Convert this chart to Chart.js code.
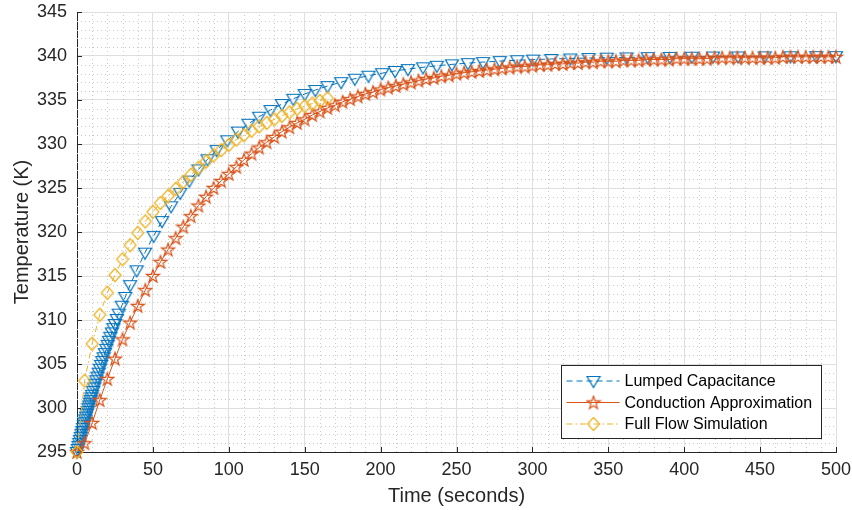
<!DOCTYPE html>
<html>
<head>
<meta charset="utf-8">
<script src="https://cdn.jsdelivr.net/npm/chart.js@4.4.0/dist/chart.umd.min.js"></script>
<style>
	html, body { margin:0; padding:0; background:#fff; }
</style>
</head>
<body>
<canvas id="myChart" width="852" height="510"></canvas>
<script>
// ---- data ----
var seriesNames = ['Lumped Capacitance', 'Conduction Approximation', 'Full Flow Simulation']

// lumped capacitance (solver output, dense near t=0)
var lumpedTime = [0, 0.5, 1, 1.5, 2, 2.5, 3, 3.5, 4, 4.5, 5, 5.5, 6, 6.5, 7, 7.5, 8, 8.5, 9, 9.5, 10,
	10.7, 11.4, 12.1, 12.8, 13.5, 14.3, 15.1, 15.9, 16.7, 17.5, 18.4, 19.3, 20.2, 21.1, 22, 23, 24, 25, 26.2, 27.5,
	29.5, 31.8, 35, 39.3, 44.8, 50.5, 56, 62, 68, 74, 80, 86, 92, 99, 106, 113, 120, 127.5, 135, 142.5, 150,
	157, 165, 174, 183, 192, 201, 209.5, 218, 228, 237, 247, 257.5, 267.5, 278.5, 290, 300.5, 312.5, 325, 337,
	349, 362, 376, 390.5, 405, 419, 435.5, 453, 470, 487, 500]
var lumpedTemp = [295.0, 295.35, 295.70, 296.04, 296.38, 296.72, 297.06, 297.40, 297.73, 298.06, 298.38, 298.71,
	299.03, 299.35, 299.66, 299.98, 300.29, 300.60, 300.90, 301.21, 301.51,
	301.93, 302.34, 302.75, 303.16, 303.56, 304.01, 304.46, 304.90, 305.34, 305.77, 306.24, 306.72, 307.18, 307.64,
	308.09, 308.59, 309.07, 309.55, 310.12, 310.72,
	311.62, 312.62, 313.96, 315.65, 317.65, 319.56, 321.24, 322.92, 324.45, 325.84, 327.11, 328.26, 329.31, 330.42,
	331.41, 332.30, 333.10, 333.86, 334.54, 335.14, 335.68,
	336.13, 336.58, 337.03, 337.42, 337.76, 338.05, 338.30, 338.51, 338.72, 338.89, 339.05, 339.19, 339.31, 339.42,
	339.52, 339.59, 339.66, 339.72, 339.77, 339.81, 339.84, 339.87, 339.90, 339.92, 339.94, 339.95, 339.96, 339.97,
	339.98, 339.98]

// conduction approximation, every 5 s
var condTime = [0, 5, 10, 15, 20, 25, 30, 35, 40, 45, 50, 55, 60, 65, 70, 75, 80, 85, 90, 95,
	100, 105, 110, 115, 120, 125, 130, 135, 140, 145, 150, 155, 160, 165, 170, 175, 180, 185, 190, 195,
	200, 205, 210, 215, 220, 225, 230, 235, 240, 245, 250, 255, 260, 265, 270, 275, 280, 285, 290, 295,
	300, 305, 310, 315, 320, 325, 330, 335, 340, 345, 350, 355, 360, 365, 370, 375, 380, 385, 390, 395,
	400, 405, 410, 415, 420, 425, 430, 435, 440, 445, 450, 455, 460, 465, 470, 475, 480, 485, 490, 495, 500]
var condTemp = [295.0, 296.0, 298.3, 300.9, 303.3, 305.6, 307.8, 309.7, 311.6, 313.4, 315.0, 316.6, 318.0, 319.3,
	320.6, 321.8, 323.0, 324.0, 325.0, 325.8,
	326.6, 327.4, 328.2, 328.9, 329.6, 330.2, 330.8, 331.4, 331.9, 332.4, 332.8, 333.3, 333.7, 334.1, 334.4, 334.8,
	335.1, 335.4, 335.7, 335.9,
	336.2, 336.4, 336.6, 336.8, 337.0, 337.2, 337.4, 337.5, 337.7, 337.8, 338.0, 338.1, 338.2, 338.3, 338.4, 338.5,
	338.6, 338.7, 338.8, 338.8,
	338.9, 339.0, 339.0, 339.1, 339.1, 339.2, 339.2, 339.3, 339.3, 339.4, 339.4, 339.4, 339.5, 339.5, 339.5, 339.6,
	339.6, 339.6, 339.6, 339.7,
	339.7, 339.7, 339.7, 339.7, 339.8, 339.8, 339.8, 339.8, 339.8, 339.8, 339.8, 339.8, 339.8, 339.9, 339.9, 339.9,
	339.9, 339.9, 339.9, 339.9, 339.9]

// full flow simulation, every 5 s up to 165 s
var flowTime = [0, 5, 10, 15, 20, 25, 30, 35, 40, 45, 50, 55, 60, 65, 70, 75, 80, 85, 90, 95,
	100, 105, 110, 115, 120, 125, 130, 135, 140, 145, 150, 155, 160, 165]
var flowTemp = [295.0, 303.1, 307.3, 310.6, 313.1, 315.1, 316.9, 318.5, 319.9, 321.2, 322.3, 323.3, 324.1, 324.9,
	325.7, 326.5, 327.3, 328.0, 328.7, 329.3, 329.9, 330.5, 331.0, 331.5, 332.0, 332.4, 332.8, 333.2, 333.6, 334.0,
	334.3, 334.6, 334.9, 335.2]

var xTicks = [0, 50, 100, 150, 200, 250, 300, 350, 400, 450, 500]
var yTicks = [295, 300, 305, 310, 315, 320, 325, 330, 335, 340, 345]

// ---- styling ----
var BLUE = '#0072BD', ORANGE = '#D95319', YELLOW = '#EDB120', AXIS = '#262626'
var FONT = '"Liberation Sans", Arial, Helvetica, sans-serif'

// matlab-ish open markers drawn on small canvases
function makeMarker(kind, color) {
	var c = document.createElement('canvas')
	c.width = 16; c.height = 16
	var g = c.getContext('2d')
	var cx = 8, cy = 8
	g.strokeStyle = color
	g.lineWidth = 1.2
	g.beginPath()
	if (kind == 'v') {
		g.moveTo(cx - 6.5, cy - 4.5); g.lineTo(cx + 6.5, cy - 4.5); g.lineTo(cx, cy + 6.5)
	} else if (kind == 'd') {
		g.moveTo(cx, cy - 6.5); g.lineTo(cx + 6, cy); g.lineTo(cx, cy + 6.5); g.lineTo(cx - 6, cy)
	} else {
		for (var i = 0; i < 10; i++) {
			var r = (i % 2) ? 2.7 : 6.8
			var a = -Math.PI / 2 + i * Math.PI / 5
			var px = cx + r * Math.cos(a), py = cy + 0.5 + r * Math.sin(a)
			if (i == 0) g.moveTo(px, py); else g.lineTo(px, py)
		}
	}
	g.closePath()
	g.stroke()
	return c
}

function pairs(xs, ys) {
	var out = []
	for (var i = 0; i < xs.length; i++) out.push({x: xs[i], y: ys[i]})
	return out
}

// dotted minor grid + inward tick marks
var minorGrid = {
	id: 'minorGrid',
	beforeDatasetsDraw(chart) {
		var ctx = chart.ctx, a = chart.chartArea, xs = chart.scales.x, ys = chart.scales.y
		ctx.save()
		ctx.strokeStyle = '#cacaca'
		ctx.lineWidth = 1
		ctx.setLineDash([1, 3])
		for (var v = 10; v < 500; v += 10) {
			if (v % 50 == 0) continue
			var px = Math.round(xs.getPixelForValue(v)) + 0.5
			ctx.beginPath(); ctx.moveTo(px, a.bottom); ctx.lineTo(px, a.top); ctx.stroke()
		}
		for (var t = 296; t < 345; t++) {
			if (t % 5 == 0) continue
			var py = Math.round(ys.getPixelForValue(t)) + 0.5
			ctx.beginPath(); ctx.moveTo(a.left, py); ctx.lineTo(a.right, py); ctx.stroke()
		}
		ctx.setLineDash([])
		ctx.strokeStyle = AXIS
		xTicks.forEach(function (v) {
			var px = Math.round(xs.getPixelForValue(v)) + 0.5
			ctx.beginPath(); ctx.moveTo(px, a.bottom); ctx.lineTo(px, a.bottom - 5); ctx.stroke()
		})
		yTicks.forEach(function (v) {
			var py = Math.round(ys.getPixelForValue(v)) + 0.5
			ctx.beginPath(); ctx.moveTo(a.left, py); ctx.lineTo(a.left + 5, py); ctx.stroke()
		})
		ctx.restore()
	}
}

// legend box in the lower right of the axes
var legendBox = {
	id: 'legendBox',
	afterDraw(chart) {
		var ctx = chart.ctx, a = chart.chartArea
		var w = 260, h = 73
		var bx = Math.round(a.right - 15 - w) + 0.5, by = Math.round(a.bottom - 14 - h) + 0.5
		ctx.save()
		ctx.fillStyle = '#fff'
		ctx.fillRect(bx, by, w, h)
		ctx.strokeStyle = AXIS
		ctx.lineWidth = 1
		ctx.strokeRect(bx, by, w, h)
		ctx.font = '16px ' + FONT
		ctx.textBaseline = 'middle'
		chart.data.datasets.forEach(function (ds, i) {
			var y = by + 15.5 + i * 21.5
			ctx.strokeStyle = ds.borderColor
			ctx.setLineDash(ds.borderDash || [])
			ctx.beginPath(); ctx.moveTo(bx + 5, y); ctx.lineTo(bx + 58, y); ctx.stroke()
			ctx.setLineDash([])
			var m = ds.pointStyle
			ctx.drawImage(m, bx + 32 - m.width / 2, y - m.height / 2)
			ctx.fillStyle = '#000'
			ctx.fillText(ds.label, bx + 63, y + 1)
		})
		ctx.restore()
	}
}

var datasets = [
	{
		label: seriesNames[0], data: pairs(lumpedTime, lumpedTemp),
		borderColor: BLUE, borderWidth: 1, borderDash: [6, 4],
		pointStyle: makeMarker('v', BLUE), pointRadius: 6, order: 3
	},
	{
		label: seriesNames[1], data: pairs(condTime, condTemp),
		borderColor: ORANGE, borderWidth: 1,
		pointStyle: makeMarker('p', ORANGE), pointRadius: 6, order: 2
	},
	{
		label: seriesNames[2], data: pairs(flowTime, flowTemp),
		borderColor: YELLOW, borderWidth: 1, borderDash: [6, 3, 1.5, 3],
		pointStyle: makeMarker('d', YELLOW), pointRadius: 6, order: 1
	},
]
datasets.forEach(function (d) {
	d.fill = false
	d.tension = 0
	d.clip = false
	d.backgroundColor = 'transparent'
})

new Chart(document.getElementById('myChart'), {
	type: 'line',
	data: {datasets: datasets},
	options: {
		responsive: false,
		animation: false,
		events: [],
		layout: {padding: {top: 12, right: 16, left: 0, bottom: 0}},
		plugins: {legend: {display: false}, tooltip: {enabled: false}},
		scales: {
			x: {
				type: 'linear', min: 0, max: 500,
				afterBuildTicks: function (s) { s.ticks = xTicks.map(function (v) { return {value: v} }) },
				afterFit: function (s) { s.height = 58; s.paddingLeft = 0; s.paddingRight = 0 },
				grid: {color: '#dfdfdf', lineWidth: 1, drawTicks: false},
				border: {color: AXIS, width: 1},
				ticks: {color: AXIS, font: {family: FONT, size: 18}, padding: 7, maxRotation: 0, autoSkip: false},
				title: {display: true, text: 'Time (seconds)', color: AXIS, font: {family: FONT, size: 20},
					padding: {top: 0, bottom: 2}}
			},
			y: {
				type: 'linear', min: 295, max: 345,
				afterBuildTicks: function (s) { s.ticks = yTicks.map(function (v) { return {value: v} }) },
				afterFit: function (s) { s.width = 77; s.paddingTop = 0; s.paddingBottom = 0 },
				grid: {color: '#dfdfdf', lineWidth: 1, drawTicks: false},
				border: {color: AXIS, width: 1},
				ticks: {color: AXIS, font: {family: FONT, size: 18}, padding: 10, autoSkip: false},
				title: {display: true, text: 'Temperature (K)', color: AXIS, font: {family: FONT, size: 20},
					padding: {top: 10, bottom: 0}}
			}
		}
	},
	plugins: [minorGrid, legendBox]
})
</script>
</body>
</html>
